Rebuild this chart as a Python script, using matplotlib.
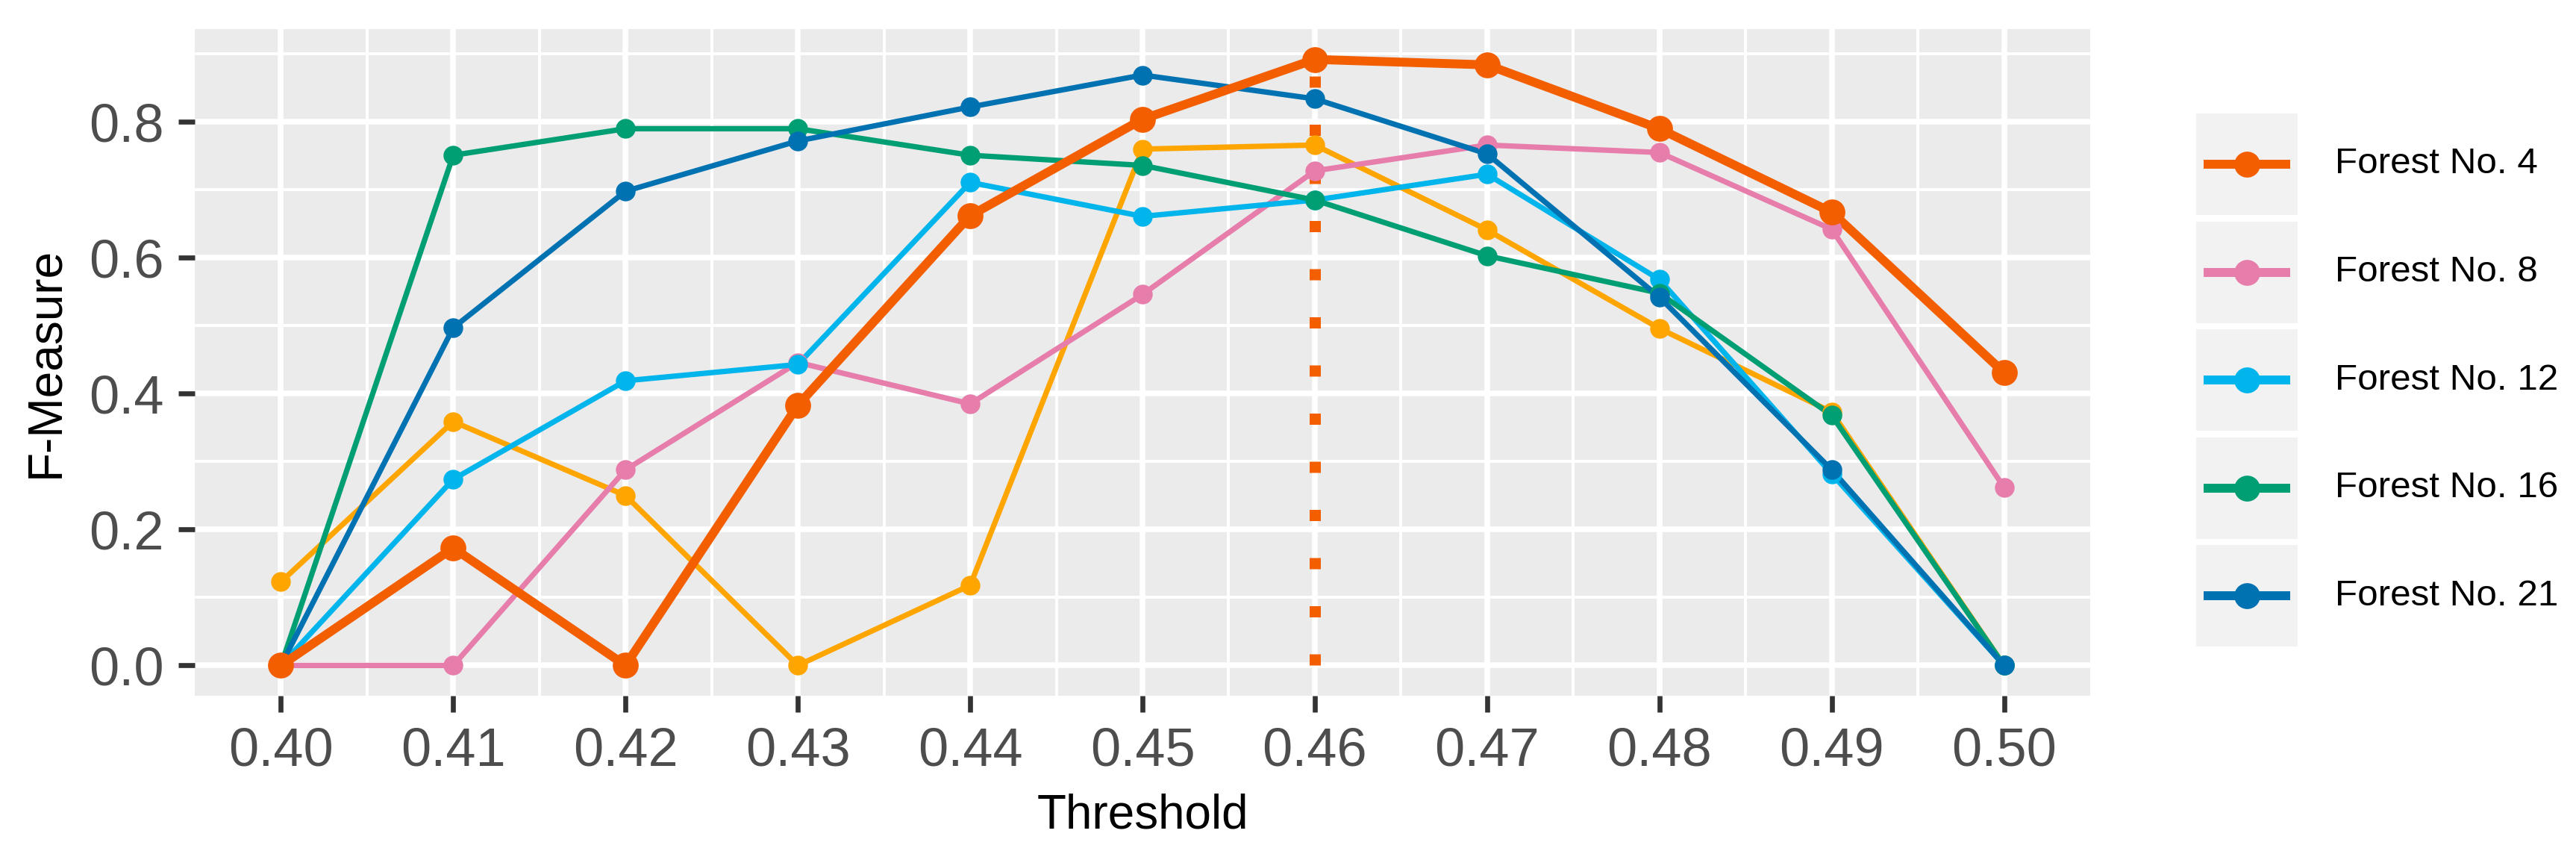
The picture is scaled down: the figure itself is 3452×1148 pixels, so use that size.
"""
F-Measure vs threshold for several forests (ggplot-like look).
"""

import matplotlib.pyplot as plt
from matplotlib.lines import Line2D
from matplotlib.patches import Rectangle
import numpy as np

plt.rcParams['font.family'] = ['Liberation Sans', 'DejaVu Sans']

# data
thresholds = [0.40, 0.41, 0.42, 0.43, 0.44, 0.45, 0.46, 0.47, 0.48, 0.49, 0.50]
tick_labels = ['0.40', '0.41', '0.42', '0.43', '0.44', '0.45',
               '0.46', '0.47', '0.48', '0.49', '0.50']

forest_4 = [0.0, 0.173, 0.0, 0.383, 0.662, 0.804, 0.892, 0.884, 0.790, 0.667, 0.431]
forest_8 = [0.0, 0.0, 0.288, 0.446, 0.385, 0.546, 0.728, 0.766, 0.755, 0.642, 0.262]
forest_12 = [0.0, 0.274, 0.419, 0.443, 0.711, 0.661, 0.685, 0.723, 0.568, 0.282, 0.0]
forest_16 = [0.0, 0.751, 0.790, 0.790, 0.751, 0.736, 0.685, 0.603, 0.548, 0.368, 0.0]
forest_21 = [0.0, 0.497, 0.698, 0.772, 0.822, 0.869, 0.834, 0.753, 0.542, 0.288, 0.0]
other = [0.123, 0.359, 0.250, 0.0, 0.118, 0.760, 0.766, 0.641, 0.496, 0.373, 0.0]

best_threshold = 0.46

legend_names = ['Forest No. 4', 'Forest No. 8', 'Forest No. 12',
                'Forest No. 16', 'Forest No. 21']
legend_colors = ['#F35E00', '#E67DAB', '#00B5EC', '#009E73', '#0072B2']

# drawing order: (values, colour, line width, marker size)
series = [
    (other, '#FFA500', 2.6, 8.5),
    (forest_8, '#E67DAB', 2.6, 8.5),
    (forest_12, '#00B5EC', 2.6, 8.5),
    (forest_16, '#009E73', 2.6, 8.5),
    (forest_21, '#0072B2', 2.6, 8.5),
    (forest_4, '#F35E00', 4.3, 11.5),
]

W, H = 3452, 1148
DPI = 200
fig = plt.figure(figsize=(W / DPI, H / DPI), dpi=DPI)

left, right, top, bottom = 261, 2801, 39, 932
ax = fig.add_axes([left / W, (H - bottom) / H, (right - left) / W, (bottom - top) / H])
ax.set_facecolor('#EBEBEB')
for s in ax.spines.values():
    s.set_visible(False)

ax.set_xlim(0.395, 0.505)
ymax = max(forest_4)
ax.set_ylim(-0.05 * ymax, 1.05 * ymax)

ax.set_xticks(thresholds)
ax.set_xticklabels(tick_labels)
ax.set_xticks(np.array(thresholds[:-1]) + 0.005, minor=True)
ax.set_yticks([0.0, 0.2, 0.4, 0.6, 0.8])
ax.set_yticklabels(['0.0', '0.2', '0.4', '0.6', '0.8'])
ax.set_yticks([0.1, 0.3, 0.5, 0.7, 0.9], minor=True)

ax.grid(True, which='major', color='white', linewidth=2.7)
ax.grid(True, which='minor', color='white', linewidth=1.4)
ax.set_axisbelow(True)

ax.tick_params(which='major', length=7.9, width=2.4, color='#333333',
               labelsize=26, labelcolor='#4D4D4D', pad=7)
ax.tick_params(which='minor', length=0)

# dotted marker of the best threshold
ax.plot([best_threshold, best_threshold], [0, ymax], color='#F35E00',
        linewidth=5.4, linestyle=(0, (1, 3.3)), dash_capstyle='butt', zorder=2)

for vals, color, lw, ms in series:
    ax.plot(thresholds, vals, color=color, linewidth=lw, zorder=3)
for vals, color, lw, ms in series:
    ax.plot(thresholds, vals, color=color, linestyle='none', marker='o',
            markersize=ms, zorder=4)

ax.set_xlabel('Threshold', fontsize=23, color='black', labelpad=8)
ax.set_ylabel('F-Measure', fontsize=23, color='black', labelpad=10)

# legend drawn by hand: grey key boxes with gaps
lx0, ly0, ly1 = 2943, 152, 868
lax = fig.add_axes([lx0 / W, (H - ly1) / H, (W - lx0) / W, (ly1 - ly0) / H])
lax.set_xlim(0, W - lx0)
lax.set_ylim(ly1 - ly0, 0)
lax.axis('off')
step, key_w, key_h = 144.6, 136, 136
for i, (name, color) in enumerate(zip(legend_names, legend_colors)):
    y0 = i * step
    yc = y0 + key_h / 2
    lax.add_patch(Rectangle((0, y0), key_w, key_h, facecolor='#F2F2F2',
                            edgecolor='none'))
    lax.add_line(Line2D([10, key_w - 10], [yc, yc], color=color, linewidth=4.3,
                        solid_capstyle='butt'))
    lax.plot([key_w / 2], [yc], marker='o', markersize=11.5, color=color)
    lax.text(186, yc, name, fontsize=17.8, color='black', va='center', ha='left')

fig.savefig('out.png', dpi=DPI)
